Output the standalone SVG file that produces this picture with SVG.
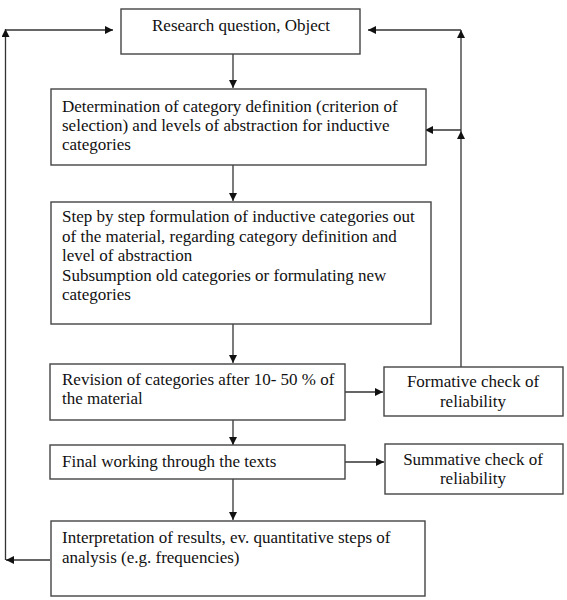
<svg xmlns="http://www.w3.org/2000/svg" width="567" height="600" viewBox="0 0 567 600">
<defs>
<marker id="ah" markerUnits="userSpaceOnUse" markerWidth="9" markerHeight="9" refX="8" refY="4" orient="auto">
<path d="M0,0 L8,4 L0,8 z" fill="#111"/>
</marker>
<style>
.box{fill:#fff;stroke:#444;stroke-width:1.4}
text{font-family:'Liberation Serif',serif;font-size:17px;fill:#111}
.c{text-anchor:middle}
.ar{fill:none;stroke:#333;stroke-width:1.3;marker-end:url(#ah)}
</style>
</defs>
<rect width="567" height="600" fill="#fff"/>
<g id="connectors">
<path class="ar" d="M233,54 V88"/>
<path class="ar" d="M233,165 V201"/>
<path class="ar" d="M233,324 V363"/>
<path class="ar" d="M233,420 V445"/>
<path class="ar" d="M233,479 V520"/>
<path class="ar" d="M345,392 H383"/>
<path class="ar" d="M345,462 H384"/>
<path class="ar" d="M461,367 V131"/>
<path class="ar" d="M461,131 V30"/>
<path class="ar" d="M461,130 H425"/>
<path class="ar" d="M461,30 H368"/>
<path class="ar" d="M50,560 H6"/>
<path class="ar" d="M5.5,560 V29"/>
<path class="ar" d="M5.5,30 H113"/>
</g>
<g id="n1">
<rect class="box" x="121" y="9" width="239" height="45"/>
<text class="c" x="241" y="31">Research question, Object</text>
</g>
<g id="n2">
<rect class="box" x="51" y="89" width="375" height="76"/>
<text x="62" y="112">Determination of category definition (criterion of</text>
<text x="62" y="131">selection) and levels of abstraction for inductive</text>
<text x="62" y="150">categories</text>
</g>
<g id="n3">
<rect class="box" x="51" y="202" width="380" height="122"/>
<text x="62" y="222">Step by step formulation of inductive categories out</text>
<text x="62" y="242">of the material, regarding category definition and</text>
<text x="62" y="261">level of abstraction</text>
<text x="62" y="281">Subsumption old categories or formulating new</text>
<text x="62" y="300">categories</text>
</g>
<g id="n4">
<rect class="box" x="50" y="364" width="295" height="56"/>
<text x="62" y="385">Revision of categories after 10- 50 % of</text>
<text x="62" y="404">the material</text>
</g>
<g id="n5">
<rect class="box" x="384" y="367" width="179" height="49"/>
<text class="c" x="473" y="387">Formative check of</text>
<text class="c" x="473" y="407">reliability</text>
</g>
<g id="n6">
<rect class="box" x="50" y="445" width="295" height="34"/>
<text x="62" y="467">Final working through the texts</text>
</g>
<g id="n7">
<rect class="box" x="385" y="444" width="178" height="50"/>
<text class="c" x="473" y="465">Summative check of</text>
<text class="c" x="473" y="484">reliability</text>
</g>
<g id="n8">
<rect class="box" x="51" y="521" width="374" height="75"/>
<text x="62" y="543">Interpretation of results, ev. quantitative steps of</text>
<text x="62" y="563">analysis (e.g. frequencies)</text>
</g>
</svg>
